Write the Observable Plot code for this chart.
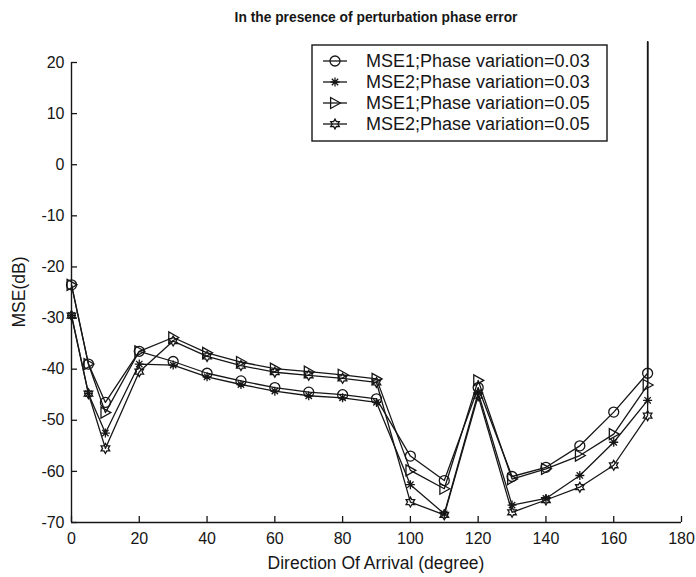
<!DOCTYPE html>
<html>
<head>
<meta charset="utf-8">
<script src="https://cdn.jsdelivr.net/npm/d3@7"></script>
<script src="https://cdn.jsdelivr.net/npm/@observablehq/plot@0.6"></script>
<style>
  body { margin: 0; background: #fff; }
  #chart { width: 696px; height: 577px; }
  svg { overflow: visible; }
</style>
</head>
<body>
<div id="chart"></div>
<script>
// Direction of arrival (degrees) at which the MSE was evaluated
const doa = [0, 5, 10, 20, 30, 40, 50, 60, 70, 80, 90, 100, 110, 120, 130, 140, 150, 160, 170];

// MSE in dB for each estimator and phase variation
const mse1Var003 = [-23.5, -39, -46.5, -36.5, -38.5, -40.8, -42.3, -43.6, -44.5, -45, -45.8, -57, -61.8, -43.6, -61, -59.2, -55, -48.4, -40.8];
const mse2Var003 = [-29.5, -44.8, -52.5, -39, -39.2, -41.5, -43, -44.3, -45.2, -45.6, -46.5, -62.6, -68.3, -44.6, -66.6, -65.3, -60.8, -54.3, -46.1];
const mse1Var005 = [-23.5, -39, -48.5, -36.5, -33.8, -36.8, -38.6, -39.9, -40.5, -41.1, -41.9, -59.8, -63.4, -42.2, -61.5, -59.5, -56.9, -52.7, -43.1];
const mse2Var005 = [-29.5, -44.8, -55.5, -40.5, -34.5, -37.5, -39.3, -40.6, -41.2, -41.8, -42.6, -66, -68.5, -45.2, -68, -65.6, -63.1, -58.8, -49.1];

const seriesNames = [
  "MSE1;Phase variation=0.03",
  "MSE2;Phase variation=0.03",
  "MSE1;Phase variation=0.05",
  "MSE2;Phase variation=0.05"
];

// every curve blows up just past the last sample and leaves the axes
const blowUpTop = 24;

const xTicks = [0, 20, 40, 60, 80, 100, 120, 140, 160, 180];
const yTicks = [20, 10, 0, -10, -20, -30, -40, -50, -60, -70];
const xDomain = [0, 180];
const yDomain = [-70, 20];

// MATLAB-style markers
const asterisk8 = {
  draw(ctx, size) {
    const r = Math.sqrt(size / Math.PI);
    const d = r * Math.SQRT1_2;
    ctx.moveTo(0, -r); ctx.lineTo(0, r);
    ctx.moveTo(-r, 0); ctx.lineTo(r, 0);
    ctx.moveTo(-d, -d); ctx.lineTo(d, d);
    ctx.moveTo(-d, d); ctx.lineTo(d, -d);
  }
};
const triangleRight = {
  draw(ctx, size) {
    const r = Math.sqrt(size / Math.PI) * 1.1;
    ctx.moveTo(r, 0);
    ctx.lineTo(-r * 0.8, -r);
    ctx.lineTo(-r * 0.8, r);
    ctx.closePath();
  }
};
const hexagram = {
  draw(ctx, size) {
    const R = Math.sqrt(size / Math.PI) * 1.1;
    const ri = R / Math.sqrt(3);
    for (let i = 0; i < 12; i++) {
      const a = (Math.PI / 6) * i - Math.PI / 2;
      const rr = i % 2 ? ri : R;
      const px = rr * Math.cos(a), py = rr * Math.sin(a);
      if (i) ctx.lineTo(px, py); else ctx.moveTo(px, py);
    }
    ctx.closePath();
  }
};

const seriesValues = [mse1Var003, mse2Var003, mse1Var005, mse2Var005];
const seriesSymbols = [d3.symbolCircle, asterisk8, triangleRight, hexagram];
const seriesRadius = [5, 4.5, 5, 4.5];

const rows = seriesNames.flatMap((name, s) =>
  doa.map((x, i) => ({ series: name, x, y: seriesValues[s][i] }))
);
const lastPoints = seriesNames.map((name, s) => ({
  series: name,
  x: doa[doa.length - 1],
  y: seriesValues[s][doa.length - 1]
}));

const ink = "#161616";
const plainNumber = d => `${d}`;

// layout
const width = 696, height = 577;
const margin = { left: 71, right: 15, top: 62, bottom: 55 };
const frameW = width - margin.left - margin.right;
const frameH = height - margin.top - margin.bottom;
const tickLen = 6;

const marks = [
  Plot.ruleX([xDomain[0]], { stroke: ink, strokeWidth: 1.4 }),
  Plot.ruleY([yDomain[0]], { stroke: ink, strokeWidth: 1.4 }),
  // inward tick marks
  Plot.ruleX(xTicks, { insetTop: frameH - tickLen, stroke: ink, strokeWidth: 1.3 }),
  Plot.ruleY(yTicks, { insetRight: frameW - tickLen, stroke: ink, strokeWidth: 1.3 }),
  Plot.axisX({
    ticks: xTicks, tickSize: 0, tickPadding: 10, tickFormat: plainNumber,
    label: null, fontSize: 16
  }),
  Plot.axisY({
    ticks: yTicks, tickSize: 0, tickPadding: 7, tickFormat: plainNumber,
    label: null, fontSize: 16
  }),
  Plot.ruleX(lastPoints, { x: "x", y1: "y", y2: blowUpTop, stroke: ink, strokeWidth: 1.3 }),
  Plot.line(rows, { x: "x", y: "y", z: "series", stroke: ink, strokeWidth: 1.3 }),
  ...seriesNames.map((name, s) =>
    Plot.dot(rows.filter(d => d.series === name), {
      x: "x", y: "y",
      symbol: seriesSymbols[s], r: seriesRadius[s],
      stroke: ink, strokeWidth: 1.3, fill: "none"
    })
  )
];

const plot = Plot.plot({
  width,
  height,
  marginLeft: margin.left,
  marginRight: margin.right,
  marginTop: margin.top,
  marginBottom: margin.bottom,
  style: { fontFamily: "'Liberation Sans', Arial, sans-serif", color: ink, background: "#fff" },
  x: { domain: xDomain },
  y: { domain: yDomain },
  marks
});

document.getElementById("chart").appendChild(plot);

// titles, axis labels and the legend box
const svg = d3.select(plot);
const xs = plot.scale("x");
const ys = plot.scale("y");
const cx = (xs.apply(xDomain[0]) + xs.apply(xDomain[1])) / 2;
const cy = (ys.apply(yDomain[0]) + ys.apply(yDomain[1])) / 2;
const font = "'Liberation Sans', Arial, sans-serif";

svg.append("text")
  .attr("x", cx).attr("y", 22)
  .attr("text-anchor", "middle")
  .attr("font-family", font).attr("font-weight", "bold").attr("font-size", 13.8)
  .attr("fill", ink)
  .text("In the presence of perturbation phase error");

svg.append("text")
  .attr("x", cx).attr("y", 569)
  .attr("text-anchor", "middle")
  .attr("font-family", font).attr("font-size", 17.5)
  .attr("fill", ink)
  .text("Direction Of Arrival (degree)");

svg.append("text")
  .attr("transform", `translate(25,${cy}) rotate(-90)`)
  .attr("text-anchor", "middle")
  .attr("font-family", font).attr("font-size", 17.5)
  .attr("fill", ink)
  .text("MSE(dB)");

const legend = svg.append("g").attr("transform", "translate(312,45)");
legend.append("rect")
  .attr("width", 295).attr("height", 96)
  .attr("fill", "#fff").attr("stroke", ink).attr("stroke-width", 1.4);

seriesNames.forEach((name, s) => {
  const row = legend.append("g").attr("transform", `translate(0,${16 + s * 21})`);
  row.append("line")
    .attr("x1", 11).attr("x2", 35).attr("y1", 0).attr("y2", 0)
    .attr("stroke", ink).attr("stroke-width", 1.3);
  row.append("path")
    .attr("transform", "translate(23,0)")
    .attr("d", d3.symbol().type(seriesSymbols[s]).size(Math.PI * seriesRadius[s] ** 2)())
    .attr("fill", "none").attr("stroke", ink).attr("stroke-width", 1.3);
  row.append("text")
    .attr("x", 54).attr("dy", "0.35em")
    .attr("text-anchor", "start")
    .attr("font-family", font).attr("font-size", 18)
    .attr("fill", ink)
    .text(name);
});
</script>
</body>
</html>
